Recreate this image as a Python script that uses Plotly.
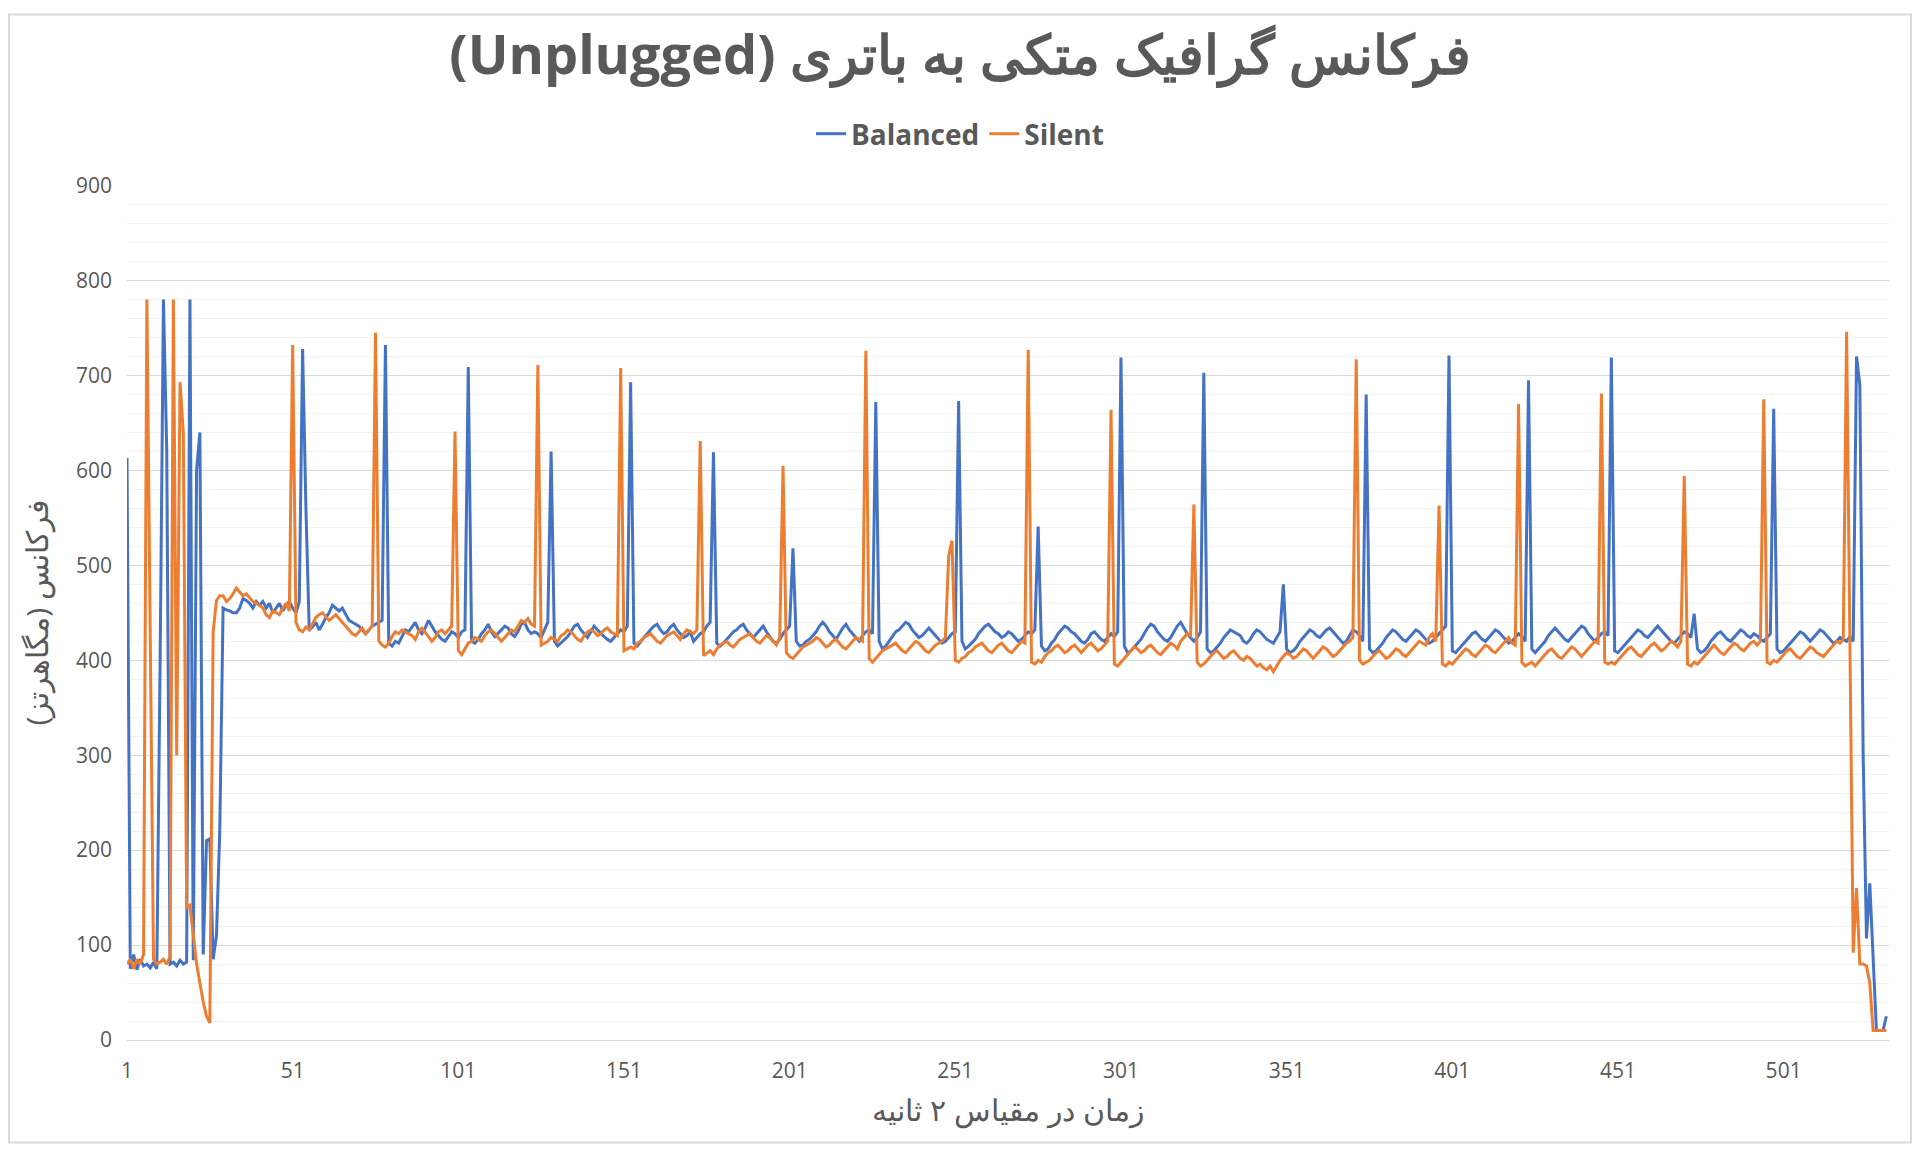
import plotly.graph_objects as go

# frequency samples (MHz), one sample every 2 seconds
balanced = [
    613, 75, 90, 74, 85, 78, 80, 76, 82, 75,
    400, 780, 620, 80, 82, 78, 84, 80, 82, 780,
    84, 600, 640, 90, 210, 212, 85, 110, 220, 455,
    453, 452, 450, 450, 455, 465, 463, 460, 455, 462,
    458, 462, 455, 460, 450, 455, 460, 452, 458, 462,
    455, 450, 462, 728, 560, 432, 435, 440, 432, 438,
    445, 450, 458, 455, 452, 455, 448, 442, 440, 438,
    436, 432, 428, 432, 436, 438, 440, 442, 732, 418,
    415, 420, 418, 425, 432, 430, 435, 440, 432, 428,
    434, 442, 436, 430, 426, 422, 420, 425, 430, 428,
    424, 430, 432, 709, 420, 418, 422, 428, 432, 438,
    430, 425, 428, 432, 436, 434, 428, 425, 430, 438,
    440, 432, 428, 430, 428, 424, 432, 440, 620, 420,
    415, 418, 422, 425, 430, 436, 438, 432, 428, 424,
    430, 436, 432, 428, 425, 422, 420, 424, 428, 432,
    430, 436, 693, 418, 415, 420, 424, 428, 432, 436,
    438, 432, 428, 430, 435, 438, 432, 428, 424, 426,
    430, 420, 424, 428, 430, 436, 440, 619, 418, 415,
    418, 422, 425, 430, 432, 436, 438, 432, 428, 424,
    428, 432, 436, 430, 425, 420, 418, 422, 428, 432,
    436, 518, 420, 415, 416, 420, 422, 426, 430, 436,
    440, 436, 430, 426, 422, 428, 434, 438, 432, 428,
    424, 420, 426, 430, 432, 428, 672, 420, 412, 415,
    420, 425, 430, 432, 436, 440, 438, 432, 428, 424,
    426, 430, 434, 430, 426, 422, 418, 420, 424, 428,
    430, 673, 420, 412, 415, 418, 422, 428, 432, 436,
    438, 434, 430, 428, 424, 426, 430, 428, 424, 420,
    422, 426, 430, 428, 432, 541, 415, 410, 412, 418,
    422, 428, 432, 436, 434, 430, 428, 424, 420, 418,
    422, 428, 430, 426, 422, 420, 424, 428, 425, 430,
    719, 415, 408, 410, 414, 418, 422, 428, 434, 438,
    436, 430, 426, 422, 420, 424, 430, 436, 440, 434,
    428, 424, 420, 424, 430, 703, 412, 408, 410, 414,
    418, 424, 428, 432, 430, 428, 426, 420, 418, 422,
    428, 432, 430, 426, 422, 420, 418, 424, 430, 480,
    412, 408, 410, 414, 420, 424, 428, 432, 430, 426,
    424, 428, 432, 434, 430, 426, 422, 418, 420, 426,
    432, 430, 426, 420, 680, 412, 408, 410, 414, 418,
    424, 428, 432, 430, 426, 422, 420, 424, 428, 432,
    430, 426, 422, 418, 420, 424, 428, 432, 436, 721,
    410, 408, 412, 416, 420, 424, 428, 430, 426, 422,
    420, 424, 428, 432, 430, 426, 422, 418, 420, 424,
    428, 425, 420, 695, 412, 408, 412, 416, 420, 426,
    430, 434, 430, 426, 422, 420, 424, 428, 432, 436,
    434, 428, 424, 420, 424, 428, 430, 426, 719, 410,
    408, 412, 416, 420, 424, 428, 432, 430, 426, 424,
    428, 432, 436, 432, 428, 424, 420, 418, 422, 426,
    430, 428, 424, 449, 412, 408, 410, 414, 420, 424,
    428, 430, 426, 422, 420, 424, 428, 432, 430, 426,
    424, 428, 426, 422, 420, 424, 428, 665, 412, 408,
    410, 414, 418, 422, 426, 430, 428, 424, 420, 424,
    428, 432, 430, 426, 422, 418, 420, 424, 422, 420,
    425, 420, 720, 690, 300, 107, 165, 80, 10, 10, 10, 25,
]

silent = [
    80, 85, 75, 85, 80, 90, 780, 400, 85, 80,
    82, 85, 80, 88, 780, 300, 693, 640, 140, 142,
    110, 80, 60, 40, 25, 18, 430, 463, 468, 468,
    462, 465, 470, 476, 472, 468, 470, 466, 462, 460,
    458, 455, 448, 445, 452, 450, 448, 455, 460, 452,
    732, 440, 432, 430, 435, 432, 438, 445, 448, 450,
    446, 442, 445, 448, 444, 440, 436, 432, 428, 426,
    430, 434, 428, 432, 436, 745, 420, 416, 414, 418,
    425, 430, 428, 432, 430, 428, 426, 422, 430, 434,
    430, 425, 420, 424, 430, 432, 428, 432, 436, 641,
    410, 406, 412, 418, 420, 424, 422, 420, 426, 430,
    432, 428, 425, 420, 424, 428, 432, 430, 436, 442,
    440, 444, 438, 436, 711, 416, 418, 420, 424, 422,
    420, 426, 428, 432, 430, 426, 422, 420, 426, 430,
    432, 430, 426, 428, 432, 434, 430, 428, 426, 708,
    410, 412, 414, 412, 418, 420, 424, 426, 428, 424,
    420, 418, 422, 426, 428, 430, 426, 422, 428, 432,
    430, 428, 432, 631, 405, 408, 410, 406, 412, 416,
    418, 420, 416, 414, 418, 422, 424, 426, 428, 424,
    420, 418, 422, 426, 424, 420, 416, 424, 605, 408,
    404, 402, 406, 410, 414, 416, 418, 420, 424, 422,
    418, 414, 416, 420, 422, 418, 414, 412, 416, 420,
    424, 422, 420, 726, 402, 398, 402, 406, 410, 412,
    414, 416, 418, 414, 410, 408, 412, 416, 420, 418,
    414, 410, 408, 412, 416, 418, 420, 424, 510, 526,
    400, 398, 402, 404, 408, 410, 414, 416, 418, 414,
    410, 408, 412, 416, 418, 414, 410, 408, 412, 416,
    420, 418, 727, 398, 396, 400, 398, 404, 408, 410,
    414, 416, 412, 408, 410, 414, 416, 412, 408, 412,
    416, 418, 414, 410, 412, 416, 420, 664, 396, 394,
    398, 402, 406, 410, 414, 412, 408, 410, 414, 416,
    412, 408, 406, 410, 414, 418, 416, 412, 420, 424,
    428, 426, 564, 398, 394, 396, 400, 404, 408, 410,
    406, 402, 404, 408, 410, 406, 402, 400, 404, 402,
    398, 394, 396, 392, 390, 394, 388, 394, 400, 404,
    408, 406, 402, 404, 408, 412, 410, 406, 402, 406,
    410, 414, 412, 408, 404, 406, 410, 414, 418, 420,
    424, 717, 400, 396, 398, 400, 404, 408, 410, 406,
    402, 404, 408, 412, 410, 406, 404, 408, 412, 416,
    420, 418, 416, 424, 428, 420, 563, 396, 394, 398,
    396, 400, 404, 408, 412, 410, 406, 404, 408, 412,
    416, 414, 410, 408, 412, 416, 420, 424, 418, 416,
    670, 398, 394, 396, 398, 394, 398, 402, 406, 410,
    412, 408, 404, 402, 406, 410, 414, 412, 408, 404,
    408, 412, 416, 420, 418, 681, 398, 396, 398, 396,
    400, 404, 408, 412, 414, 410, 406, 404, 408, 412,
    416, 418, 414, 410, 412, 416, 420, 418, 414, 420,
    594, 396, 394, 398, 396, 400, 404, 408, 412, 416,
    412, 408, 406, 410, 414, 418, 416, 412, 410, 414,
    418, 420, 416, 420, 675, 398, 396, 400, 398, 402,
    406, 410, 412, 408, 404, 402, 406, 410, 414, 412,
    408, 406, 404, 408, 412, 416, 420, 418, 422, 746,
    420, 92, 160, 80, 80, 78, 60, 10, 10, 10, 10, 10,
]

x_tick_vals = [1, 51, 101, 151, 201, 251, 301, 351, 401, 451, 501]
y_tick_vals = [0, 100, 200, 300, 400, 500, 600, 700, 800, 900]

samples = list(range(1, len(balanced) + 1))
grey = "#595959"

# the page adds an 8px body margin, so the figure is a bit smaller than the window
W, H = 1904, 1136

fig = go.Figure()
fig.add_trace(go.Scatter(x=samples, y=balanced, name="Balanced", mode="lines",
                         line=dict(color="#4472C4", width=3)))
fig.add_trace(go.Scatter(x=samples, y=silent, name="Silent", mode="lines",
                         line=dict(color="#ED7D31", width=3)))

fig.update_layout(
    width=W, height=H,
    paper_bgcolor="white", plot_bgcolor="white",
    margin=dict(l=119, r=23, t=173, b=104),
    font=dict(family="Open Sans", color=grey),
    title=dict(text="<b>\u202bفرکانس گرافیک متکی به باتری (Unplugged)\u202c</b>",
               x=0.5, xref="container", y=1 - 47 / H, yref="container",
               xanchor="center", yanchor="middle",
               font=dict(size=54, color=grey)),
    legend=dict(orientation="h", x=0.5, xref="container", xanchor="center",
                y=1 - 126 / H, yref="container", yanchor="middle",
                font=dict(size=28, color=grey, weight="bold"), itemwidth=30,
                traceorder="normal"),
    showlegend=True,
)
fig.update_xaxes(
    range=[1, 532.8], tickvals=x_tick_vals, ticks="", ticklabelstandoff=12,
    showgrid=False, showline=True, linecolor="#d9d9d9", zeroline=False,
    tickfont=dict(size=21, color=grey),
    title=dict(text="زمان در مقیاس ۲ ثانیه", font=dict(size=30, color=grey), standoff=16),
)
fig.update_yaxes(
    range=[0, 900], tickvals=y_tick_vals, ticks="", ticklabelstandoff=14,
    showgrid=True, gridcolor="#d9d9d9", zeroline=False,
    minor=dict(dtick=20, showgrid=True, gridcolor="#f2f2f2"),
    tickfont=dict(size=21, color=grey),
    title=dict(text="فرکانس (مگاهرتز)", font=dict(size=30, color=grey), standoff=18),
)
pw, ph = W - 119 - 23, H - 173 - 104
fig.add_shape(type="rect", xref="paper", yref="paper",
              x0=-118 / pw, x1=1 + 22 / pw, y0=-103 / ph, y1=1 + 172 / ph,
              line=dict(color="#d9d9d9", width=2))

fig.write_html("out.html")
